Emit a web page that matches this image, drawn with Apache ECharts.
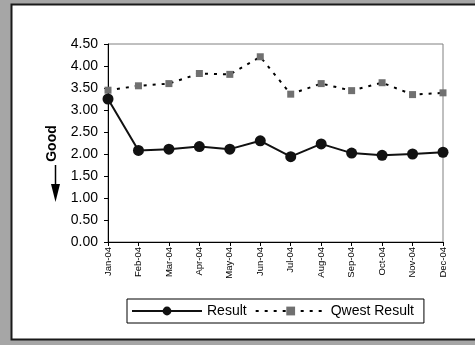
<!DOCTYPE html>
<html><head><meta charset="utf-8">
<script src="https://cdn.jsdelivr.net/npm/echarts@6/dist/echarts.min.js"></script>
<style>html,body{margin:0;padding:0;background:#a6a6a6;}#c{width:475px;height:345px;}</style>
</head><body><div id="c"></div>
<script>
var categories = ['Jan-04','Feb-04','Mar-04','Apr-04','May-04','Jun-04','Jul-04','Aug-04','Sep-04','Oct-04','Nov-04','Dec-04'];
var resultValues = [3.25, 2.08, 2.11, 2.17, 2.11, 2.30, 1.94, 2.23, 2.02, 1.97, 2.00, 2.04];
var qwestValues = [3.45, 3.55, 3.60, 3.83, 3.81, 4.21, 3.36, 3.60, 3.44, 3.62, 3.35, 3.39];
var seriesNames = ['Result', 'Qwest Result'];
var yLabelText = 'Good';

var chart = echarts.init(document.getElementById('c'), null, {renderer: 'canvas'});
var font = 'Arial, "Liberation Sans", sans-serif';
chart.setOption({
  backgroundColor: '#a6a6a6',
  animation: false,
  textStyle: {fontFamily: font},
  graphic: [
    {type: 'rect', z: -10, shape: {x: 11.5, y: 4.5, width: 480, height: 335}, style: {fill: '#ffffff', stroke: '#1a1a1a', lineWidth: 2}},
    {type: 'text', z: 10, x: 52, y: 143.5, rotation: Math.PI / 2, style: {text: yLabelText, font: 'bold 14px ' + font, fill: '#000', align: 'center', verticalAlign: 'middle'}},
    {type: 'line', z: 10, shape: {x1: 55.5, y1: 165, x2: 55.5, y2: 190}, style: {stroke: '#000', lineWidth: 1.5}},
    {type: 'polygon', z: 10, shape: {points: [[51, 184], [60, 184], [55.5, 202]]}, style: {fill: '#000'}}
  ],
  grid: {left: 108, right: 32, top: 44, bottom: 103, show: true, borderColor: '#808080', borderWidth: 1, backgroundColor: 'transparent'},
  legend: {
    left: 127, top: 299,
    data: seriesNames,
    itemWidth: 70, itemHeight: 11, itemGap: 8,
    padding: [5, 10, 5, 4],
    borderColor: '#000', borderWidth: 1,
    textStyle: {fontSize: 14, color: '#000', fontFamily: font}
  },
  xAxis: {
    type: 'category', data: categories, boundaryGap: false,
    axisLine: {lineStyle: {color: '#000', width: 1}},
    axisTick: {show: true, alignWithLabel: true, length: 4, lineStyle: {color: '#000'}},
    axisLabel: {rotate: 90, fontSize: 9.5, color: '#000', margin: 5, fontFamily: font, interval: 0},
    splitLine: {show: false}
  },
  yAxis: {
    type: 'value', min: 0, max: 4.5, interval: 0.5,
    axisLine: {show: true, lineStyle: {color: '#000', width: 1}},
    axisTick: {show: true, length: 4, lineStyle: {color: '#000'}},
    axisLabel: {fontSize: 14, color: '#000', margin: 10, fontFamily: font, formatter: function (v) { return v.toFixed(2); }},
    splitLine: {show: false}
  },
  series: [
    {name: seriesNames[0], type: 'line', data: resultValues, symbol: 'circle', symbolSize: 11,
     itemStyle: {color: '#111'}, lineStyle: {color: '#111', width: 2}, z: 3},
    {name: seriesNames[1], type: 'line', data: qwestValues, symbol: 'rect', symbolSize: 7,
     itemStyle: {color: '#707070'}, lineStyle: {color: '#000', width: 2, type: [3, 6]}, z: 2}
  ]
});
</script></body></html>
